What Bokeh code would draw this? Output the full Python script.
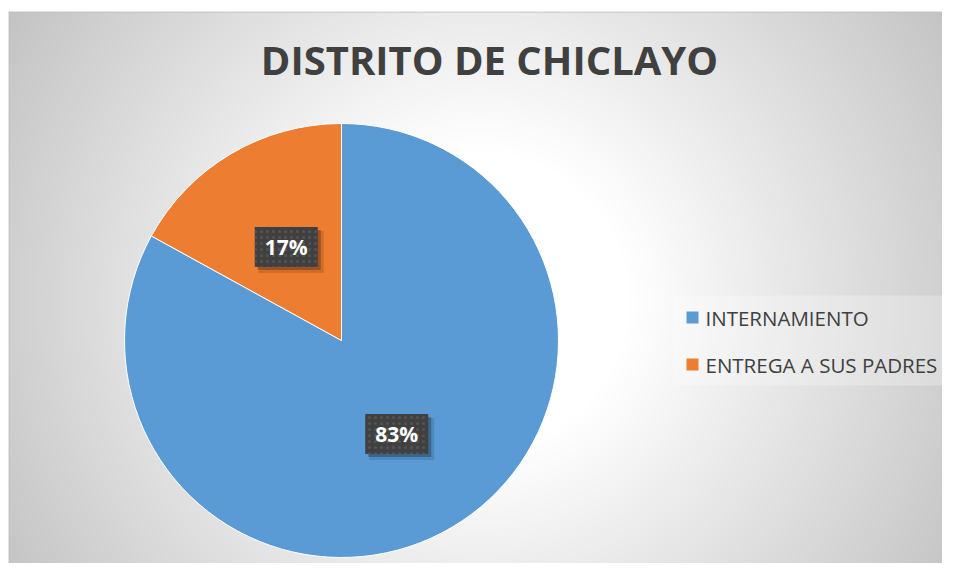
import numpy as np
from bokeh.plotting import figure
from bokeh.models import ColumnDataSource, Range1d, Label, Span
from bokeh.core.properties import value
from bokeh.embed import file_html
from bokeh.resources import INLINE

# ---- data ----
TITLE = "DISTRITO DE CHICLAYO"
CATEGORIES = ["INTERNAMIENTO", "ENTREGA A SUS PADRES"]
VALUES = [83, 17]
COLORS = ["#5B9BD5", "#ED7D31"]
PCT_LABELS = ["83%", "17%"]

FONT = "Open Sans"

# ---- figure (data units == screen pixels; y_data = 579 - y_screen) ----
p = figure(width=942, height=563, output_backend="svg", toolbar_location=None,
           x_range=Range1d(8, 942), y_range=Range1d(16, 568),
           x_axis_type=None, y_axis_type=None,
           min_border_top=11, min_border_left=8, min_border_right=0, min_border_bottom=0)
p.grid.visible = False
p.border_fill_color = "white"
p.outline_line_color = None

# ---- radial gradient background ----
W, H = 934, 552
xs = 8 + np.arange(W) + 0.5
ys = 16 + np.arange(H) + 0.5           # data y (bottom -> top)
X, Y = np.meshgrid(xs, ys)
Yimg = 579 - Y
r = np.sqrt((X - 480.0) ** 2 + (Yimg - 300.0) ** 2)
g = np.clip(255 - 0.148 * np.clip(r - 150, 0, None), 186, 255).astype(np.uint32)
img = (255 << 24) | (g << 16) | (g << 8) | g
p.image_rgba(image=[img.astype(np.uint32)], x=8, y=16, dw=W, dh=H)

p.add_layout(Span(location=8.5, dimension="height", line_color="#bdbdbd", line_width=1))
p.add_layout(Span(location=567.5, dimension="width", line_color="#bdbdbd", line_width=1))

# ---- pie ----
CX, CY, R = 341, 239, 217
vals = np.array(VALUES, dtype=float)
total = vals.sum()
cum_end = np.cumsum(vals)
cum_start = cum_end - vals
a_from = np.radians(90 - 360 * cum_end / total)
a_to = np.radians(90 - 360 * cum_start / total)
mid = (a_from + a_to) / 2

src = ColumnDataSource(dict(cat=CATEGORIES, val=VALUES, color=COLORS,
                            start=a_from, end=a_to))
p.wedge(x=CX, y=CY, radius=R, start_angle="start", end_angle="end",
        direction="anticlock", fill_color="color", line_color="white",
        line_width=1, source=src)

# ---- data labels ----
lx = CX + 0.5 * R * np.cos(mid)
ly = CY + 0.5 * R * np.sin(mid)
lab = ColumnDataSource(dict(x=lx, y=ly, t=PCT_LABELS,
                            sx1=lx + 3, sy1=ly - 3, sx2=lx + 5, sy2=ly - 5))
p.rect(x="sx2", y="sy2", width=65, height=42, fill_color="black", fill_alpha=0.12,
       line_color=None, source=lab)
p.rect(x="sx1", y="sy1", width=63, height=40, fill_color="black", fill_alpha=0.25,
       line_color=None, source=lab)
p.rect(x="x", y="y", width=63, height=40, fill_color="#404040", line_color=None,
       hatch_pattern="dot", hatch_color="#535353", hatch_scale=6, hatch_weight=1,
       source=lab)
p.text(x="x", y="y", text="t", text_align="center", text_baseline="middle",
       text_color="white", text_font=value(FONT), text_font_style="bold",
       text_font_size=value("21px"), source=lab)

# ---- title ----
p.add_layout(Label(x=489, y=579 - 59, text=TITLE, text_align="center",
                   text_baseline="middle", text_font=FONT, text_font_style="bold",
                   text_font_size="40px", text_color="#404040"))

# ---- legend (drawn from the category lists) ----
LX0, LX1, LY0, LY1 = 673, 953, 295, 385          # screen coords of legend box
p.quad(left=[LX0], right=[LX1], top=[579 - LY0], bottom=[579 - LY1],
       fill_color="white", fill_alpha=0.25, line_color=None)
n = len(CATEGORIES)
row_y = [579 - (317 + 47 * i) for i in range(n)]
leg = ColumnDataSource(dict(x=[692] * n, y=row_y, color=COLORS, cat=CATEGORIES,
                            ty=row_y, tx=[705] * n))
p.rect(x="x", y="y", width=12, height=12, fill_color="color", line_color=None, source=leg)
p.text(x="tx", y="ty", text="cat", text_align="left", text_baseline="middle",
       text_color="#404040", text_font=value(FONT), text_font_size=value("20.5px"),
       source=leg)

open("out.html", "w").write(file_html(p, INLINE))
